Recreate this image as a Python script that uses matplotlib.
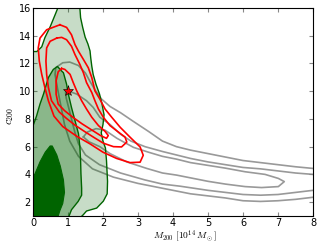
import matplotlib
matplotlib.use("Agg")
import matplotlib.pyplot as plt

plt.rcParams['font.family'] = ['DejaVu Sans']
plt.rcParams['mathtext.fontset'] = 'cm'
plt.rcParams['font.size'] = 7

# ---- green filled regions (traced boundaries, M200 / c200) ----
light_x = [0, 0, 0.11, 0.25, 0.34, 0.49, 0.63, 0.71, 1.34, 1.36, 1.42, 1.49, 1.57, 1.63, 1.65,
           1.68, 1.72, 1.80, 1.90, 1.97, 2.03, 2.00, 1.95, 2.00, 2.07, 2.10, 2.13, 2.12, 2.01,
           1.82, 1.53, 1.44, 1.40]
light_y = [1, 12.86, 12.86, 13.2, 13.86, 14.64, 15.5, 16, 16, 15.3, 14.6, 13.9, 13.4, 12.9, 12.4,
           11.8, 11.2, 10.5, 9.8, 9.1, 8.3, 7.6, 7.0, 6.4, 5.9, 5.0, 3.5, 2.6, 2.07,
           1.57, 1.36, 1.1, 1.0]

mid_x = [0, 0, 0.10, 0.20, 0.30, 0.44, 0.58, 0.70, 0.80, 0.87, 0.96, 1.01, 1.10, 1.20, 1.30,
         1.34, 1.36, 1.37, 1.39, 1.39, 1.29, 1.10, 1.03]
mid_y = [1, 7.5, 8.2, 9.07, 9.79, 10.98, 11.57, 11.78, 11.5, 11.33, 10.5, 9.79, 8.83, 7.88, 6.93,
         5.98, 5.02, 4.07, 3.0, 2.5, 2.05, 1.45, 1.0]

dark_x = [0, 0, 0.10, 0.20, 0.35, 0.49, 0.55, 0.68, 0.78, 0.87, 0.90, 0.85, 0.77, 0.72]
dark_y = [1, 3.7, 4.3, 4.9, 5.6, 6.05, 6.05, 5.4, 4.6, 3.6, 2.7, 1.9, 1.4, 1.0]

# ---- gray contours ----
gray_outer_x = [8.0, 7.5, 7.0, 6.5, 6.0, 5.5, 5.0, 4.5, 4.1, 3.7, 3.3, 2.85, 2.5, 2.2, 1.95,
                1.77, 1.63, 1.5, 1.3, 1.05, 0.85, 0.65, 0.63, 0.7, 0.8, 0.9, 1.05, 1.3, 1.7,
                2.3, 3.0, 3.7, 4.1, 4.5, 5.0, 5.5, 6.0, 6.5, 7.0, 7.5, 8.0]
gray_outer_y = [4.43, 4.55, 4.7, 4.85, 5.0, 5.25, 5.5, 5.75, 6.0, 6.4, 7.1, 7.85, 8.45, 8.9, 9.45,
                10.1, 10.7, 11.3, 11.85, 12.1, 12.05, 11.7, 11.2, 10.2, 8.9, 7.6, 6.4, 5.3, 4.4,
                3.8, 3.35, 3.0, 2.8, 2.6, 2.45, 2.3, 2.1, 2.05, 2.1, 2.2, 2.35]

gray_mid_x = [8.0, 7.5, 7.0, 6.5, 6.0, 5.5, 5.0, 4.5, 4.1, 3.7, 3.2, 2.8, 2.5, 2.2, 1.91,
              1.72, 1.53, 1.25, 1.0, 0.93, 0.95, 1.0, 1.1, 1.2, 1.3, 1.5, 1.9, 2.5, 3.2, 3.7,
              4.2, 5.0, 5.5, 6.0, 6.5, 7.0, 7.5, 8.0]
gray_mid_y = [4.0, 4.1, 4.25, 4.4, 4.5, 4.7, 4.9, 5.15, 5.4, 5.65, 6.0, 6.4, 6.9, 7.6, 8.12,
              8.83, 9.31, 9.79, 10.02, 9.9, 9.5, 9.0, 8.0, 7.0, 6.2, 5.4, 4.7, 4.1, 3.6, 3.3,
              3.15, 2.85, 2.7, 2.55, 2.5, 2.55, 2.7, 2.85]

gray_in_x = [1.44, 1.55, 1.8, 2.05, 2.4, 2.87, 3.3, 3.7, 4.1, 4.5, 5.0, 5.5, 6.06, 6.63, 7.01,
             7.18, 7.01, 6.53, 6.06, 5.5, 5.0, 4.5, 4.1, 3.7, 3.25, 2.68, 2.2, 1.91, 1.6, 1.44]
gray_in_y = [6.7, 7.05, 7.3, 7.2, 6.6, 5.95, 5.6, 5.3, 5.1, 4.85, 4.65, 4.45, 4.19, 4.0, 3.71,
             3.48, 3.12, 3.05, 3.12, 3.3, 3.5, 3.75, 3.95, 4.1, 4.43, 4.9, 5.5, 6.0, 6.35, 6.7]

# ---- red contours ----
red_outer_x = [0.77, 0.39, 0.20, 0.15, 0.18, 0.25, 0.34, 0.44, 0.60, 0.85, 1.25, 1.63, 2.00,
               2.39, 2.77, 3.06, 3.15, 3.06, 2.77, 2.49, 2.25, 2.06, 1.91, 1.77, 1.68, 1.58,
               1.44, 1.30, 1.20, 1.10, 0.96, 0.77]
red_outer_y = [14.79, 14.43, 13.83, 13.12, 12.17, 11.21, 10.26, 9.31, 8.2, 7.45, 6.75, 6.2, 5.6,
               5.15, 4.85, 4.88, 5.38, 5.98, 6.69, 7.4, 8.12, 8.71, 9.43, 10.02, 10.98, 11.69,
               12.29, 12.88, 13.36, 14.07, 14.6, 14.79]

red_mid_x = [0.68, 0.49, 0.39, 0.37, 0.39, 0.44, 0.53, 0.75, 0.95, 1.20, 1.50, 1.75, 2.01, 2.30,
             2.53, 2.68, 2.63, 2.44, 2.20, 2.01, 1.87, 1.77, 1.68, 1.53, 1.44, 1.34, 1.20, 1.10,
             0.96, 0.82, 0.68]
red_mid_y = [13.83, 13.6, 13.12, 12.17, 11.21, 10.26, 9.31, 8.5, 8.05, 7.55, 7.05, 6.65, 6.25, 6.0,
             5.98, 6.33, 6.69, 7.05, 7.52, 8.12, 8.71, 9.31, 9.9, 10.62, 11.33, 11.93, 12.64, 13.24,
             13.71, 13.88, 13.83]

red_in_x = [0.82, 0.72, 0.66, 0.66, 0.72, 0.90, 1.15, 1.40, 1.68, 1.93, 2.10, 2.15, 2.06, 1.87,
            1.68, 1.53, 1.39, 1.25, 1.15, 1.06, 0.91, 0.82]
red_in_y = [11.64, 11.4, 10.74, 9.79, 9.07, 8.6, 8.1, 7.65, 7.2, 6.8, 6.6, 6.8, 7.1, 7.52,
            8.12, 8.71, 9.31, 10.02, 10.62, 11.21, 11.57, 11.64]

star_x, star_y = 1.0, 10.0

fig = plt.figure(figsize=(3.26, 2.45), dpi=100)
ax = fig.add_axes([0.1012, 0.1184, 0.8589, 0.849])

for gx, gy in [(gray_outer_x, gray_outer_y), (gray_mid_x, gray_mid_y), (gray_in_x, gray_in_y)]:
    ax.plot(gx, gy, color='#999999', lw=1.2, zorder=1)

ax.fill(light_x, light_y, facecolor='#006400', alpha=0.22, edgecolor='none', zorder=2)
ax.plot(light_x, light_y, color='#006400', lw=1.0, zorder=2.1)
ax.fill(mid_x, mid_y, facecolor='#006400', alpha=0.30, edgecolor='none', zorder=2.2)
ax.plot(mid_x, mid_y, color='#006400', lw=1.0, zorder=2.3)
ax.fill(dark_x, dark_y, facecolor='#006400', edgecolor='#006400', lw=0.8, zorder=2.4)

for rx, ry in [(red_outer_x, red_outer_y), (red_mid_x, red_mid_y), (red_in_x, red_in_y)]:
    ax.plot(rx, ry, color='#ff0000', lw=1.2, zorder=3)

ax.plot([star_x], [star_y], marker='*', markersize=8, markerfacecolor='#ff0000',
        markeredgecolor='black', markeredgewidth=0.4, linestyle='none', zorder=4)

ax.set_xlim(0, 8)
ax.set_ylim(1, 16)
ax.set_xticks(range(0, 9))
ax.set_yticks(range(2, 17, 2))
ax.tick_params(direction='in', length=3, color='#888888', top=True, right=True, labelsize=7, pad=1.5)
for s in ax.spines.values():
    s.set_linewidth(0.8)
ax.set_xlabel(r'$M_{200}\ [10^{14}\,M_\odot]$', fontsize=6.8)
ax.xaxis.label.set_va('bottom')
ax.xaxis.set_label_coords(0.543, -0.135)
ax.set_ylabel(r'$c_{200}$', fontsize=8)
ax.yaxis.set_label_coords(-0.06, 0.48)

fig.savefig('out.png', dpi=100)
